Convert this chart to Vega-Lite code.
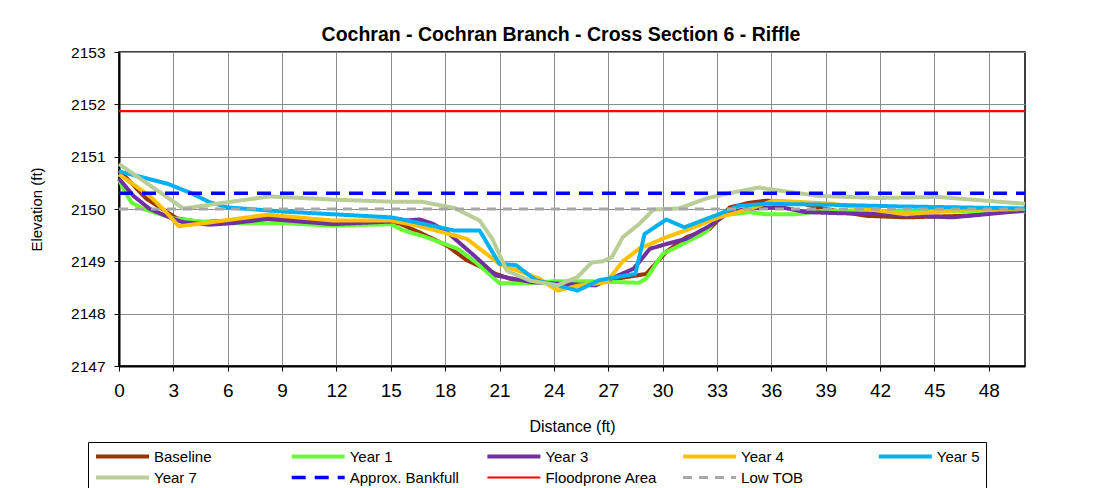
{
  "$schema": "https://vega.github.io/schema/vega-lite/v6.json",
  "width": 906,
  "height": 314,
  "autosize": {"type": "none"},
  "padding": {"left": 119, "top": 52, "right": 71, "bottom": 122},
  "background": "white",
  "config": {
    "font": "Liberation Sans",
    "view": {"stroke": "#000", "strokeWidth": 1.5},
    "axis": {"gridColor": "#8c8c8c", "gridWidth": 1, "domainColor": "#000", "domainWidth": 2, "tickColor": "#000", "tickSize": 5, "labelColor": "#000", "titleColor": "#000", "titleFontWeight": "normal"}
  },
  "title": {"text": "Cochran - Cochran Branch - Cross Section 6 - Riffle", "fontSize": 19.5, "fontWeight": "bold", "anchor": "middle", "frame": "group", "dx": -11, "offset": 0, "color": "#000"},
  "data": {"values": [
    {"s": "Baseline", "x": 0, "y": 2150.74}, {"s": "Baseline", "x": 1.5, "y": 2150.2}, {"s": "Baseline", "x": 3.2, "y": 2149.82}, {"s": "Baseline", "x": 4.5, "y": 2149.75}, {"s": "Baseline", "x": 6.3, "y": 2149.78}, {"s": "Baseline", "x": 8.2, "y": 2149.85}, {"s": "Baseline", "x": 11.8, "y": 2149.72}, {"s": "Baseline", "x": 15, "y": 2149.75}, {"s": "Baseline", "x": 15.5, "y": 2149.72}, {"s": "Baseline", "x": 16.6, "y": 2149.55}, {"s": "Baseline", "x": 18.1, "y": 2149.3}, {"s": "Baseline", "x": 19.2, "y": 2149.02}, {"s": "Baseline", "x": 20.8, "y": 2148.76}, {"s": "Baseline", "x": 21.9, "y": 2148.63}, {"s": "Baseline", "x": 24, "y": 2148.58}, {"s": "Baseline", "x": 26, "y": 2148.55}, {"s": "Baseline", "x": 27.3, "y": 2148.66}, {"s": "Baseline", "x": 28.4, "y": 2148.72}, {"s": "Baseline", "x": 29.1, "y": 2148.76}, {"s": "Baseline", "x": 30.2, "y": 2149.18}, {"s": "Baseline", "x": 31.3, "y": 2149.46}, {"s": "Baseline", "x": 32.6, "y": 2149.62}, {"s": "Baseline", "x": 33.7, "y": 2150.03}, {"s": "Baseline", "x": 34.8, "y": 2150.12}, {"s": "Baseline", "x": 35.7, "y": 2150.16}, {"s": "Baseline", "x": 37.5, "y": 2150.12}, {"s": "Baseline", "x": 39, "y": 2150.0}, {"s": "Baseline", "x": 41.2, "y": 2149.87}, {"s": "Baseline", "x": 43.4, "y": 2149.84}, {"s": "Baseline", "x": 46.7, "y": 2149.87}, {"s": "Baseline", "x": 50, "y": 2149.99},
    {"s": "Year 1", "x": 0, "y": 2150.57}, {"s": "Year 1", "x": 0.35, "y": 2150.31}, {"s": "Year 1", "x": 0.7, "y": 2150.12}, {"s": "Year 1", "x": 1.35, "y": 2150.0}, {"s": "Year 1", "x": 3, "y": 2149.82}, {"s": "Year 1", "x": 4.5, "y": 2149.76}, {"s": "Year 1", "x": 6.3, "y": 2149.73}, {"s": "Year 1", "x": 9.1, "y": 2149.73}, {"s": "Year 1", "x": 11.8, "y": 2149.68}, {"s": "Year 1", "x": 15, "y": 2149.71}, {"s": "Year 1", "x": 15.7, "y": 2149.59}, {"s": "Year 1", "x": 16.8, "y": 2149.48}, {"s": "Year 1", "x": 18.7, "y": 2149.24}, {"s": "Year 1", "x": 19.7, "y": 2148.98}, {"s": "Year 1", "x": 21, "y": 2148.58}, {"s": "Year 1", "x": 22.5, "y": 2148.58}, {"s": "Year 1", "x": 24, "y": 2148.62}, {"s": "Year 1", "x": 26, "y": 2148.62}, {"s": "Year 1", "x": 28.7, "y": 2148.59}, {"s": "Year 1", "x": 29.1, "y": 2148.67}, {"s": "Year 1", "x": 30, "y": 2149.14}, {"s": "Year 1", "x": 31.1, "y": 2149.33}, {"s": "Year 1", "x": 32.4, "y": 2149.56}, {"s": "Year 1", "x": 33.1, "y": 2149.87}, {"s": "Year 1", "x": 34.8, "y": 2149.94}, {"s": "Year 1", "x": 35.7, "y": 2149.9}, {"s": "Year 1", "x": 37.4, "y": 2149.9}, {"s": "Year 1", "x": 39, "y": 2149.97}, {"s": "Year 1", "x": 42, "y": 2149.96}, {"s": "Year 1", "x": 45, "y": 2149.95}, {"s": "Year 1", "x": 50, "y": 2149.95},
    {"s": "Year 3", "x": 0, "y": 2150.58}, {"s": "Year 3", "x": 0.8, "y": 2150.25}, {"s": "Year 3", "x": 1.7, "y": 2150.0}, {"s": "Year 3", "x": 3, "y": 2149.81}, {"s": "Year 3", "x": 3.5, "y": 2149.75}, {"s": "Year 3", "x": 5, "y": 2149.7}, {"s": "Year 3", "x": 6.3, "y": 2149.73}, {"s": "Year 3", "x": 8.2, "y": 2149.81}, {"s": "Year 3", "x": 11.8, "y": 2149.71}, {"s": "Year 3", "x": 15, "y": 2149.76}, {"s": "Year 3", "x": 16.6, "y": 2149.8}, {"s": "Year 3", "x": 17.3, "y": 2149.72}, {"s": "Year 3", "x": 18.1, "y": 2149.56}, {"s": "Year 3", "x": 19.6, "y": 2149.11}, {"s": "Year 3", "x": 20.8, "y": 2148.73}, {"s": "Year 3", "x": 22.8, "y": 2148.6}, {"s": "Year 3", "x": 24.5, "y": 2148.57}, {"s": "Year 3", "x": 26.3, "y": 2148.54}, {"s": "Year 3", "x": 28.4, "y": 2148.86}, {"s": "Year 3", "x": 29.3, "y": 2149.24}, {"s": "Year 3", "x": 30.2, "y": 2149.33}, {"s": "Year 3", "x": 31.3, "y": 2149.43}, {"s": "Year 3", "x": 32.6, "y": 2149.68}, {"s": "Year 3", "x": 33.7, "y": 2149.94}, {"s": "Year 3", "x": 34.8, "y": 2150.01}, {"s": "Year 3", "x": 36.6, "y": 2150.03}, {"s": "Year 3", "x": 37.9, "y": 2149.94}, {"s": "Year 3", "x": 39.7, "y": 2149.92}, {"s": "Year 3", "x": 42.3, "y": 2149.9}, {"s": "Year 3", "x": 44.5, "y": 2149.86}, {"s": "Year 3", "x": 46, "y": 2149.84}, {"s": "Year 3", "x": 50, "y": 2149.97},
    {"s": "Year 4", "x": 0, "y": 2150.66}, {"s": "Year 4", "x": 1.7, "y": 2150.25}, {"s": "Year 4", "x": 2.6, "y": 2149.94}, {"s": "Year 4", "x": 3.3, "y": 2149.67}, {"s": "Year 4", "x": 4.5, "y": 2149.72}, {"s": "Year 4", "x": 8.2, "y": 2149.89}, {"s": "Year 4", "x": 11.8, "y": 2149.78}, {"s": "Year 4", "x": 15, "y": 2149.78}, {"s": "Year 4", "x": 16.5, "y": 2149.68}, {"s": "Year 4", "x": 19.2, "y": 2149.43}, {"s": "Year 4", "x": 21, "y": 2148.95}, {"s": "Year 4", "x": 22.1, "y": 2148.81}, {"s": "Year 4", "x": 23.2, "y": 2148.67}, {"s": "Year 4", "x": 24.2, "y": 2148.44}, {"s": "Year 4", "x": 25.4, "y": 2148.54}, {"s": "Year 4", "x": 26.9, "y": 2148.6}, {"s": "Year 4", "x": 27.8, "y": 2149.0}, {"s": "Year 4", "x": 28.7, "y": 2149.24}, {"s": "Year 4", "x": 30.2, "y": 2149.46}, {"s": "Year 4", "x": 31.5, "y": 2149.62}, {"s": "Year 4", "x": 33.1, "y": 2149.84}, {"s": "Year 4", "x": 34.8, "y": 2150.0}, {"s": "Year 4", "x": 36.1, "y": 2150.16}, {"s": "Year 4", "x": 39.4, "y": 2150.1}, {"s": "Year 4", "x": 41.9, "y": 2149.97}, {"s": "Year 4", "x": 43.4, "y": 2149.9}, {"s": "Year 4", "x": 46, "y": 2149.97}, {"s": "Year 4", "x": 50, "y": 2150.0},
    {"s": "Year 5", "x": 0, "y": 2150.72}, {"s": "Year 5", "x": 2.7, "y": 2150.48}, {"s": "Year 5", "x": 4, "y": 2150.3}, {"s": "Year 5", "x": 5, "y": 2150.13}, {"s": "Year 5", "x": 6, "y": 2150.03}, {"s": "Year 5", "x": 9.1, "y": 2149.95}, {"s": "Year 5", "x": 15, "y": 2149.84}, {"s": "Year 5", "x": 15.5, "y": 2149.81}, {"s": "Year 5", "x": 18.5, "y": 2149.59}, {"s": "Year 5", "x": 19.9, "y": 2149.59}, {"s": "Year 5", "x": 21, "y": 2148.95}, {"s": "Year 5", "x": 21.9, "y": 2148.93}, {"s": "Year 5", "x": 23, "y": 2148.64}, {"s": "Year 5", "x": 24.2, "y": 2148.54}, {"s": "Year 5", "x": 25.3, "y": 2148.44}, {"s": "Year 5", "x": 26.5, "y": 2148.64}, {"s": "Year 5", "x": 28.5, "y": 2148.76}, {"s": "Year 5", "x": 29, "y": 2149.52}, {"s": "Year 5", "x": 30.2, "y": 2149.8}, {"s": "Year 5", "x": 31.2, "y": 2149.65}, {"s": "Year 5", "x": 33.1, "y": 2149.9}, {"s": "Year 5", "x": 34.2, "y": 2150.06}, {"s": "Year 5", "x": 35.7, "y": 2150.1}, {"s": "Year 5", "x": 39.4, "y": 2150.08}, {"s": "Year 5", "x": 43, "y": 2150.05}, {"s": "Year 5", "x": 50, "y": 2150.01},
    {"s": "Year 7", "x": 0, "y": 2150.86}, {"s": "Year 7", "x": 3.55, "y": 2150.01}, {"s": "Year 7", "x": 8.3, "y": 2150.24}, {"s": "Year 7", "x": 11.8, "y": 2150.18}, {"s": "Year 7", "x": 15, "y": 2150.14}, {"s": "Year 7", "x": 16.7, "y": 2150.14}, {"s": "Year 7", "x": 18.5, "y": 2150.02}, {"s": "Year 7", "x": 19.9, "y": 2149.78}, {"s": "Year 7", "x": 20.6, "y": 2149.43}, {"s": "Year 7", "x": 21.4, "y": 2148.82}, {"s": "Year 7", "x": 22.7, "y": 2148.63}, {"s": "Year 7", "x": 24.2, "y": 2148.54}, {"s": "Year 7", "x": 25.3, "y": 2148.7}, {"s": "Year 7", "x": 26.1, "y": 2148.98}, {"s": "Year 7", "x": 26.7, "y": 2149.0}, {"s": "Year 7", "x": 27.2, "y": 2149.08}, {"s": "Year 7", "x": 27.8, "y": 2149.46}, {"s": "Year 7", "x": 28.7, "y": 2149.71}, {"s": "Year 7", "x": 29.5, "y": 2149.99}, {"s": "Year 7", "x": 30.9, "y": 2150.01}, {"s": "Year 7", "x": 32.4, "y": 2150.2}, {"s": "Year 7", "x": 33.5, "y": 2150.29}, {"s": "Year 7", "x": 35.3, "y": 2150.41}, {"s": "Year 7", "x": 36.5, "y": 2150.35}, {"s": "Year 7", "x": 38.6, "y": 2150.25}, {"s": "Year 7", "x": 41.9, "y": 2150.21}, {"s": "Year 7", "x": 45.2, "y": 2150.23}, {"s": "Year 7", "x": 50, "y": 2150.1},
    {"s": "Approx. Bankfull", "x": 0, "y": 2150.3}, {"s": "Approx. Bankfull", "x": 50, "y": 2150.3},
    {"s": "Floodprone Area", "x": 0, "y": 2151.87}, {"s": "Floodprone Area", "x": 50, "y": 2151.87},
    {"s": "Low TOB", "x": 0, "y": 2150.0}, {"s": "Low TOB", "x": 50, "y": 2150.0}
  ]},
  "mark": {"type": "line", "strokeCap": "butt", "strokeJoin": "round"},
  "encoding": {
    "x": {"field": "x", "type": "quantitative", "scale": {"domain": [0, 50], "nice": false, "zero": false},
      "axis": {"values": [0, 3, 6, 9, 12, 15, 18, 21, 24, 27, 30, 33, 36, 39, 42, 45, 48], "title": "Distance (ft)", "labelFontSize": 19, "labelPadding": 10, "titleFontSize": 16, "titlePadding": 18, "labelFlush": false}},
    "y": {"field": "y", "type": "quantitative", "scale": {"domain": [2147, 2153], "nice": false, "zero": false},
      "axis": {"values": [2147, 2148, 2149, 2150, 2151, 2152, 2153], "format": "d", "title": "Elevation (ft)", "labelFontSize": 15.5, "labelPadding": 9, "titleFontSize": 15, "titlePadding": 26}},
    "color": {"field": "s", "type": "nominal",
      "scale": {"domain": ["Baseline", "Year 1", "Year 3", "Year 4", "Year 5", "Year 7", "Approx. Bankfull", "Floodprone Area", "Low TOB"],
        "range": ["#993300", "#66FF33", "#7030A0", "#FFC000", "#00B0F0", "#B9CD96", "#0000FF", "#FF0000", "#A6A6A6"]},
      "legend": {"title": null, "orient": "none", "legendX": -31, "legendY": 390, "columns": 5, "direction": "horizontal", "gridAlign": "all", "columnPadding": 23.7, "rowPadding": 4, "padding": 6, "strokeColor": "#000", "fillColor": "#fff", "symbolType": "stroke", "symbolSize": 2809, "clipHeight": 17, "labelFontSize": 15, "labelOffset": 3, "labelColor": "#000", "labelLimit": 200}},
    "strokeDash": {"field": "s", "type": "nominal",
      "scale": {"domain": ["Baseline", "Year 1", "Year 3", "Year 4", "Year 5", "Year 7", "Approx. Bankfull", "Floodprone Area", "Low TOB"],
        "range": [[1, 0], [1, 0], [1, 0], [1, 0], [1, 0], [1, 0], [14, 9], [1, 0], [9, 7]]}},
    "strokeWidth": {"field": "s", "type": "nominal",
      "scale": {"type": "ordinal", "domain": ["Baseline", "Year 1", "Year 3", "Year 4", "Year 5", "Year 7", "Approx. Bankfull", "Floodprone Area", "Low TOB"],
        "range": [4, 4, 4, 4, 4, 4, 3.5, 2.2, 3]}},
    "order": {"field": "x", "type": "quantitative"}
  }
}
